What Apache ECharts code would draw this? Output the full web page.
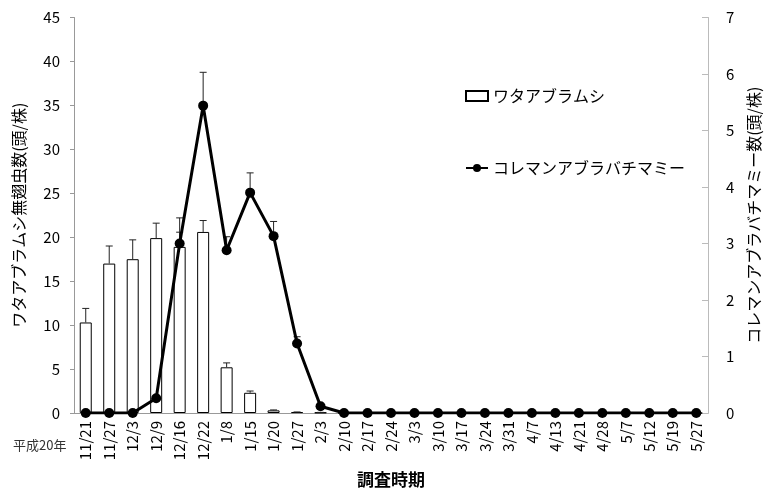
<!DOCTYPE html>
<html>
<head>
<meta charset="utf-8">
<script src="https://cdn.jsdelivr.net/npm/echarts@6/dist/echarts.min.js"></script>
<style>
    html, body { margin: 0; padding: 0; background: #fff; }
    #chart { width: 770px; height: 495px; }
</style>
</head>
<body>
<div id="chart"></div>
<script>
// 調査日
var dates = ["11/21", "11/27", "12/3", "12/9", "12/16", "12/22", "1/8", "1/15", "1/20", "1/27",
    "2/3", "2/10", "2/17", "2/24", "3/3", "3/10", "3/17", "3/24", "3/31", "4/7",
    "4/13", "4/21", "4/28", "5/7", "5/12", "5/19", "5/27"];

// ワタアブラムシ 無翅虫数 (左軸)
var aphid = [10.3, 17.0, 17.5, 19.9, 18.9, 20.6, 5.2, 2.3, 0.3, 0.1,
    0.05, 0, 0, 0, 0, 0, 0, 0, 0, 0, 0, 0, 0, 0, 0, 0, 0];
var aphidErr = [11.9, 19.0, 19.7, 21.6, 22.2, 21.9, 5.7, 2.5, 0.35, 0.12,
    0.07, 0, 0, 0, 0, 0, 0, 0, 0, 0, 0, 0, 0, 0, 0, 0, 0];

// コレマンアブラバチ マミー数 (右軸)
var mummy = [0, 0, 0, 0.26, 3.0, 5.44, 2.88, 3.9, 3.13, 1.23,
    0.12, 0, 0, 0, 0, 0, 0, 0, 0, 0, 0, 0, 0, 0, 0, 0, 0];
var mummyErr = [0, 0, 0, 0.3, 3.2, 6.03, 3.12, 4.25, 3.39, 1.35,
    0.14, 0, 0, 0, 0, 0, 0, 0, 0, 0, 0, 0, 0, 0, 0, 0, 0];

var FONT = "'Noto Sans CJK JP', 'Noto Sans', sans-serif";

function errData(vals, errs) {
    var out = [];
    for (var i = 0; i < vals.length; i++) {
        if (errs[i] > vals[i]) out.push([i, vals[i], errs[i]]);
    }
    return out;
}

// 上向きのエラーバー
function renderErr(params, api) {
    var p0 = api.coord([api.value(0), api.value(1)]);
    var p1 = api.coord([api.value(0), api.value(2)]);
    var hw = 3.5;
    var st = { stroke: "#222", lineWidth: 1 };
    return {
        type: "group",
        children: [
            { type: "line", shape: { x1: p0[0], y1: p0[1], x2: p1[0], y2: p1[1] }, style: st },
            { type: "line", shape: { x1: p1[0] - hw, y1: p1[1], x2: p1[0] + hw, y2: p1[1] }, style: st }
        ]
    };
}

var chart = echarts.init(document.getElementById("chart"));

var option = {
    animation: false,
    textStyle: { fontFamily: FONT },
    grid: { left: 74, right: 51, top: 17.5, bottom: 82 },
    legend: {
        orient: "vertical",
        left: 460,
        top: 83,
        itemGap: 56,
        itemWidth: 22,
        itemHeight: 10,
        textStyle: { fontSize: 16, color: "#000", fontFamily: FONT },
        data: [
            { name: "ワタアブラムシ", icon: "rect" },
            { name: "コレマンアブラバチマミー" }
        ]
    },
    graphic: [
        {
            type: "text", left: 13, top: 439,
            style: { text: "平成20年", fontSize: 13, fill: "#333", fontFamily: FONT }
        }
    ],
    xAxis: {
        type: "category",
        data: dates,
        name: "調査時期",
        nameLocation: "middle",
        nameGap: 58,
        nameTextStyle: { fontSize: 17, color: "#000", fontWeight: "bold" },
        axisLine: { lineStyle: { color: "#999" } },
        axisTick: { inside: true, length: 6, lineStyle: { color: "#999" } },
        axisLabel: { rotate: 90, fontSize: 15, color: "#000", margin: 8 }
    },
    yAxis: [
        {
            type: "value",
            min: 0, max: 45, interval: 5,
            name: "ワタアブラムシ無翅虫数(頭/株)",
            nameLocation: "middle",
            nameRotate: 90,
            nameGap: 47,
            nameTextStyle: { fontSize: 16, color: "#000" },
            splitLine: { show: false },
            axisLine: { show: true, lineStyle: { color: "#999" } },
            axisTick: { show: true, length: 4, lineStyle: { color: "#999" } },
            axisLabel: { fontSize: 15, color: "#000", margin: 14 }
        },
        {
            type: "value",
            min: 0, max: 7, interval: 1,
            position: "right",
            name: "コレマンアブラバチマミー数(頭/株)",
            nameLocation: "middle",
            nameRotate: 90,
            nameGap: 38,
            nameTextStyle: { fontSize: 16, color: "#000" },
            splitLine: { show: false },
            axisLine: { show: true, lineStyle: { color: "#bbb" } },
            axisTick: { show: true, inside: true, length: 6, lineStyle: { color: "#bbb" } },
            axisLabel: { fontSize: 15, color: "#000", margin: 18 }
        }
    ],
    series: [
        {
            name: "ワタアブラムシ",
            type: "bar",
            yAxisIndex: 0,
            data: aphid,
            barWidth: 12,
            itemStyle: { color: "#fff", borderColor: "#000", borderWidth: 1 }
        },
        {
            type: "custom",
            yAxisIndex: 0,
            renderItem: renderErr,
            data: errData(aphid, aphidErr),
            z: 3
        },
        {
            name: "コレマンアブラバチマミー",
            type: "line",
            yAxisIndex: 1,
            data: mummy,
            symbol: "circle",
            symbolSize: 10,
            lineStyle: { color: "#000", width: 3 },
            itemStyle: { color: "#000" },
            z: 5
        },
        {
            type: "custom",
            yAxisIndex: 1,
            renderItem: renderErr,
            data: errData(mummy, mummyErr),
            z: 4
        }
    ]
};

chart.setOption(option);
</script>
</body>
</html>
